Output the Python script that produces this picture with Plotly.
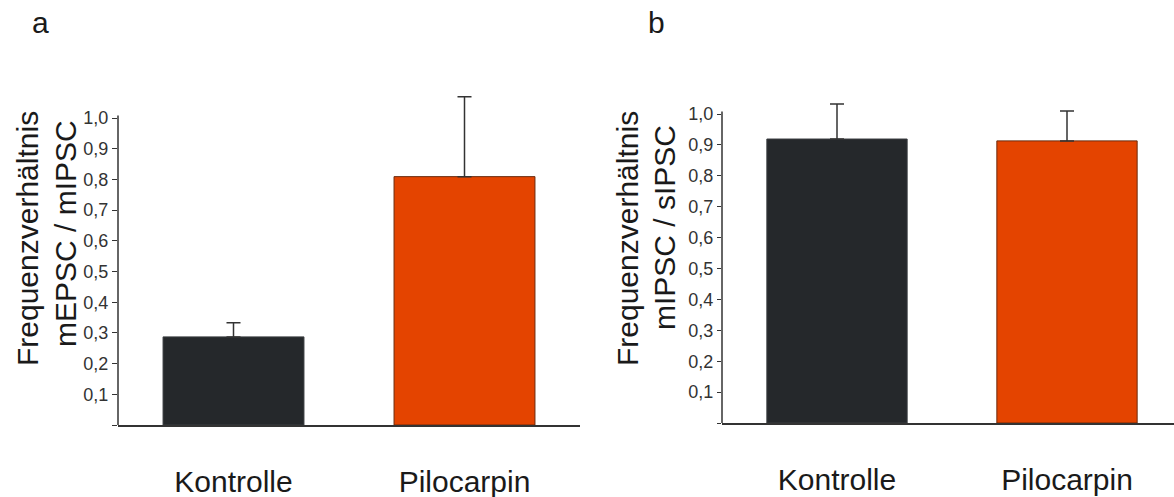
import plotly.graph_objects as go

# ---- data ----
categories = ["Kontrolle", "Pilocarpin"]
ratio_a = [0.287, 0.809]          # mEPSC / mIPSC
err_a = [0.046, 0.260]
ratio_b = [0.919, 0.913]          # mIPSC / sIPSC
err_b = [0.113, 0.097]
ytick_vals = [0, 0.1, 0.2, 0.3, 0.4, 0.5, 0.6, 0.7, 0.8, 0.9, 1.0]
ytick_text = ["", "0,1", "0,2", "0,3", "0,4", "0,5", "0,6", "0,7", "0,8", "0,9", "1,0"]
title_a = ["Frequenzverhältnis", "mEPSC / mIPSC"]
title_b = ["Frequenzverhältnis", "mIPSC / sIPSC"]
panel_labels = ["a", "b"]

bar_colors = ["#25282b", "#e44400"]
bar_edges = ["#3a3d40", "#6b2a0c"]
FONT = "Liberation Sans, Arial, sans-serif"
W, H = 1174, 497
YMAX = 1.1

def px(x):
    return x / W

def py(y):
    return (H - y) / H

fig = go.Figure()

fig.add_trace(go.Bar(
    x=categories, y=ratio_a, xaxis="x", yaxis="y",
    width=0.61,
    marker=dict(color=bar_colors, line=dict(color=bar_edges, width=1)),
    error_y=dict(type="data", array=err_a, arrayminus=[0, 0], symmetric=False,
                 color="#333333", thickness=1.5, width=7),
    showlegend=False,
))
fig.add_trace(go.Bar(
    x=categories, y=ratio_b, xaxis="x2", yaxis="y2",
    width=0.61,
    marker=dict(color=bar_colors, line=dict(color=bar_edges, width=1)),
    error_y=dict(type="data", array=err_b, arrayminus=[0, 0], symmetric=False,
                 color="#333333", thickness=1.5, width=7),
    showlegend=False,
))

dom_a_x = [px(118), px(580)]
dom_a_y = [py(425), py(425 - YMAX * 307)]
dom_b_x = [px(722), 1.0]
dom_b_y = [py(423), py(423 - YMAX * 309)]
xr_a = [-0.5, 1.5]
xr_b = [-0.5, (1174 - 837) / 230]

xcommon = dict(
    type="category", showline=True, linecolor="#333333", linewidth=1.5,
    ticks="", showgrid=False, zeroline=False, automargin=False,
    tickfont=dict(family=FONT, size=30, color="#1a1a1a"),
    ticklabelstandoff=29,
)
ycommon = dict(
    range=[0, YMAX], showline=False, automargin=False,
    ticks="outside", tickcolor="#333333", tickwidth=1,
    tickvals=ytick_vals, ticktext=ytick_text,
    tickfont=dict(family=FONT, size=18, color="#333333"),
    showgrid=False, zeroline=False,
)
minor = dict(
    type="linear", showline=False, ticks="outside", ticklen=3, tickcolor="#777777",
    tickwidth=1, dtick=0.2, tick0=-0.4, showticklabels=False, showgrid=False,
    zeroline=False, automargin=False,
)

fig.update_layout(
    width=W, height=H,
    margin=dict(l=0, r=0, t=0, b=0, pad=0, autoexpand=False),
    paper_bgcolor="white", plot_bgcolor="white",
    barmode="group",
    xaxis=dict(domain=dom_a_x, anchor="y", range=xr_a, **xcommon),
    yaxis=dict(domain=dom_a_y, anchor="x", ticklen=5, **ycommon),
    xaxis2=dict(domain=dom_b_x, anchor="y2", range=xr_b, **xcommon),
    yaxis2=dict(domain=dom_b_y, anchor="x2", ticklen=4, **ycommon),
    xaxis3=dict(domain=dom_a_x, anchor="y", overlaying="x", range=xr_a, **minor),
    xaxis4=dict(domain=dom_b_x, anchor="y2", overlaying="x2", range=xr_b, **minor),
)

# y-axis lines that stop at 1,0 (error bars reach above)
for xr, yr in [("x domain", "y"), ("x2 domain", "y2")]:
    fig.add_shape(type="line", xref=xr, yref=yr, x0=0, x1=0, y0=0, y1=1.008,
                  line=dict(color="#333333", width=1.5))

ann = []
for lab, (x, y) in zip(panel_labels, [(40, 23), (656, 23)]):
    ann.append(dict(text=lab, x=px(x), y=py(y), xref="paper", yref="paper",
                    showarrow=False, xanchor="center", yanchor="middle",
                    font=dict(family=FONT, size=30, color="#1a1a1a")))
for lines, pos in [(title_a, [(27, 239), (65, 234)]), (title_b, [(627, 239), (664, 228)])]:
    for t, (x, y) in zip(lines, pos):
        ann.append(dict(text=t, x=px(x), y=py(y), xref="paper", yref="paper",
                        showarrow=False, xanchor="center", yanchor="middle",
                        textangle=-90,
                        font=dict(family=FONT, size=30, color="#1a1a1a")))
fig.update_layout(annotations=ann)

fig.write_html("out.html")
